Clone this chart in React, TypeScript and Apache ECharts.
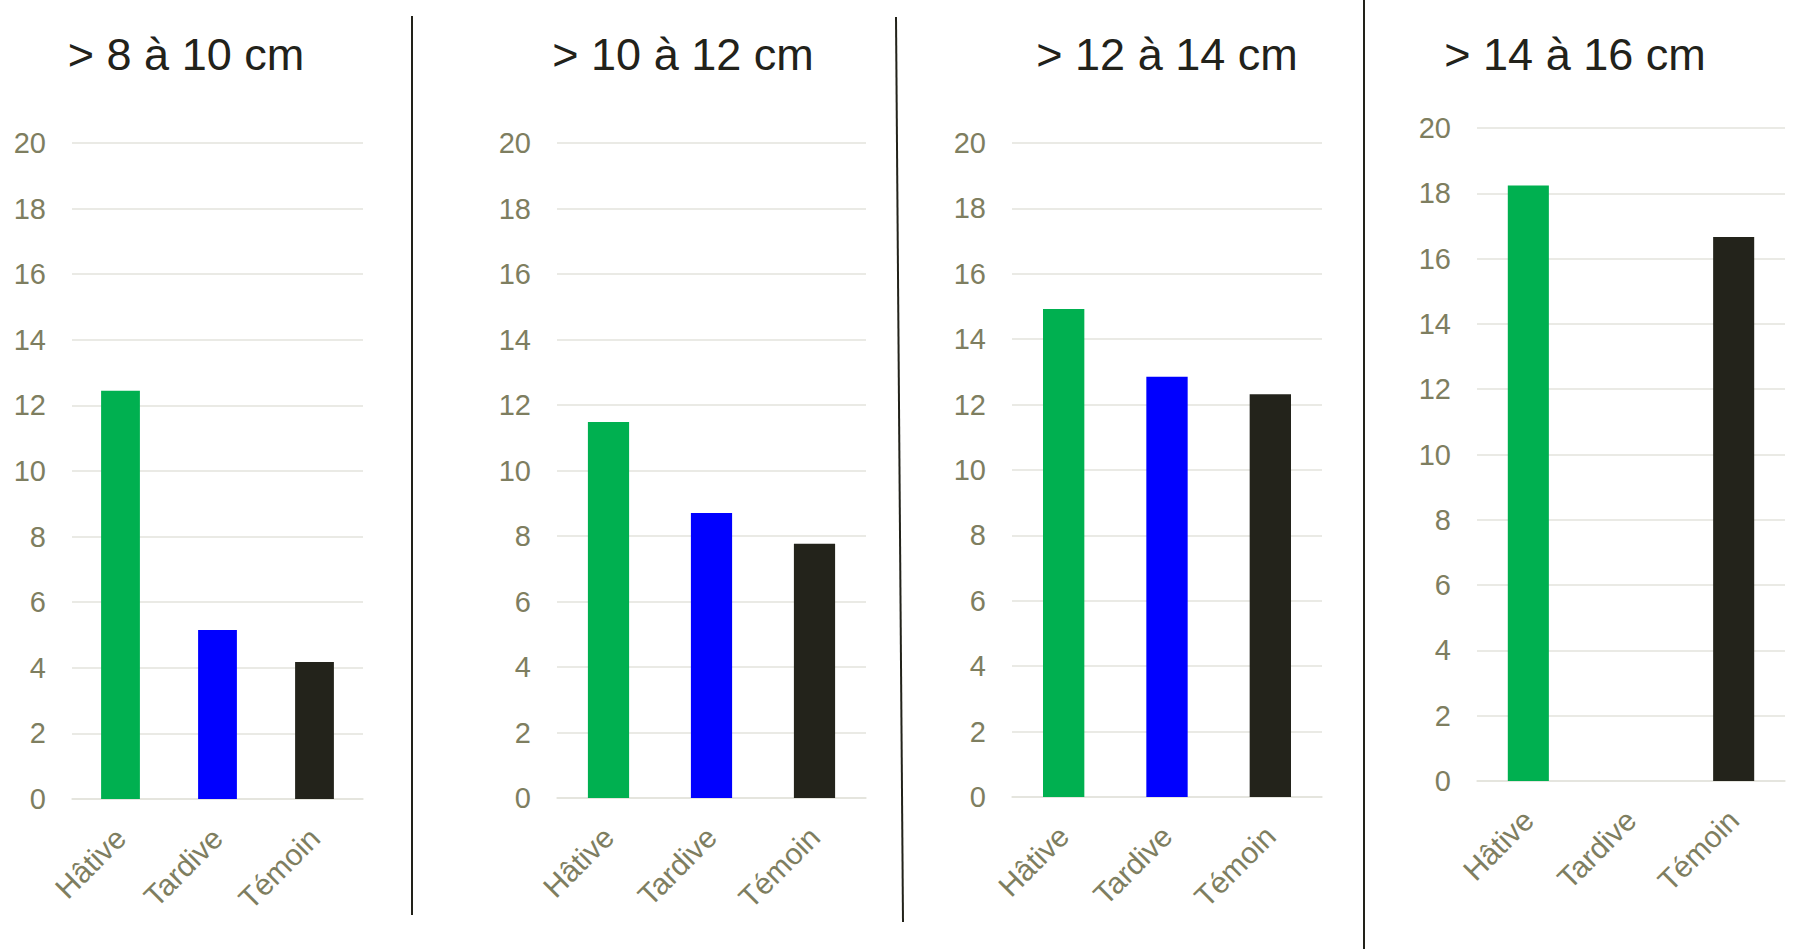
import React, { useEffect, useRef } from "react";
import * as echarts from "echarts";

const categories = ["Hâtive", "Tardive", "Témoin"];
const panelTitles = ["> 8 à 10 cm", "> 10 à 12 cm", "> 12 à 14 cm", "> 14 à 16 cm"];
const values8to10 = [12.45, 5.15, 4.18];
const values10to12 = [11.48, 8.7, 7.76];
const values12to14 = [14.92, 12.85, 12.32];
const values14to16 = [18.24, 0, 16.66];
const panelValues = [values8to10, values10to12, values12to14, values14to16];
const barColors = ["#00B050", "#0000FF", "#23231B"];
const yMin = 0;
const yMax = 20;
const yInterval = 2;

const FONT = "'Liberation Sans', Arial, sans-serif";
const LABEL_COLOR = "#7E7E60";
const GRID_COLOR = "#E3E3DC";
const DARK = "#22221A";

const grids = [
  { left: 72, top: 143, width: 291, height: 656 },
  { left: 557, top: 143, width: 309, height: 655 },
  { left: 1012, top: 143, width: 310, height: 654 },
  { left: 1477, top: 128, width: 308, height: 653 },
];
const titleCenters = [
  [186, 54],
  [683, 54],
  [1167, 54],
  [1575, 54],
];

export default function App() {
  const ref = useRef<HTMLDivElement>(null);
  useEffect(() => {
    if (!ref.current) return;
    const chart = echarts.init(ref.current, null, { renderer: "svg" });
    const option: any = {
      animation: false,
      backgroundColor: "#FFFFFF",
      grid: grids.map((g) => ({ ...g, containLabel: false })),
      xAxis: grids.map((_, i) => ({
        type: "category",
        gridIndex: i,
        data: categories,
        axisLine: { show: true, lineStyle: { color: GRID_COLOR, width: 1.5 } },
        axisTick: { show: false },
        axisLabel: {
          rotate: 45,
          margin: 34,
          color: LABEL_COLOR,
          fontSize: 30,
          fontFamily: FONT,
          interval: 0,
        },
      })),
      yAxis: grids.map((_, i) => ({
        type: "value",
        gridIndex: i,
        min: yMin,
        max: yMax,
        interval: yInterval,
        axisLine: { show: false },
        axisTick: { show: false },
        splitLine: { show: true, lineStyle: { color: GRID_COLOR, width: 1.5 } },
        axisLabel: {
          margin: 26,
          color: LABEL_COLOR,
          fontSize: 29,
          fontFamily: FONT,
        },
      })),
      series: panelValues.map((vals, i) => ({
        type: "bar",
        xAxisIndex: i,
        yAxisIndex: i,
        barWidth: "40%",
        data: vals.map((v, j) => ({
          value: v,
          itemStyle: { color: barColors[j] },
        })),
      })),
      graphic: [
        ...panelTitles.map((t, i) => ({
          type: "text",
          x: titleCenters[i][0],
          y: titleCenters[i][1],
          style: {
            text: t,
            fill: DARK,
            font: `45px ${FONT}`,
            align: "center",
            verticalAlign: "middle",
          },
        })),
        {
          type: "line",
          shape: { x1: 412, y1: 16, x2: 412, y2: 915 },
          style: { stroke: DARK, lineWidth: 2 },
        },
        {
          type: "line",
          shape: { x1: 896, y1: 17, x2: 903, y2: 922 },
          style: { stroke: DARK, lineWidth: 2 },
        },
        {
          type: "line",
          shape: { x1: 1364, y1: 0, x2: 1364, y2: 949 },
          style: { stroke: DARK, lineWidth: 2 },
        },
      ],
    };
    chart.setOption(option);
    return () => chart.dispose();
  }, []);
  return (
    <div
      ref={ref}
      style={{ position: "fixed", left: 0, top: 0, width: 1797, height: 949, background: "#fff" }}
    />
  );
}
